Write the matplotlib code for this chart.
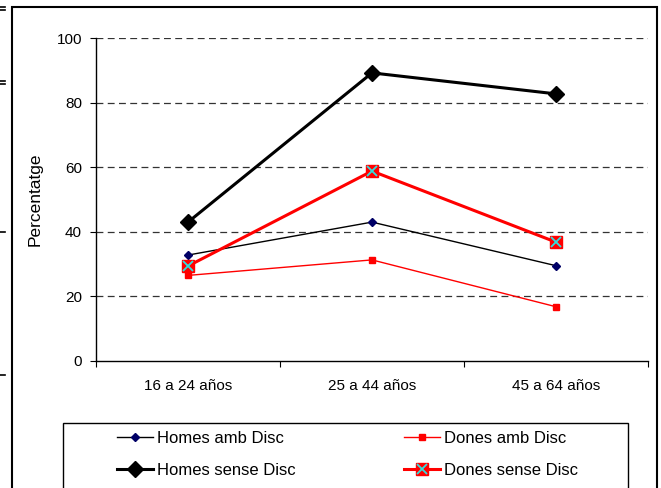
import matplotlib.pyplot as plt
from matplotlib.patches import Rectangle
from matplotlib.lines import Line2D
from matplotlib.legend_handler import HandlerTuple

plt.rcParams['font.family'] = ['Liberation Sans', 'DejaVu Sans']

# dades
grups = ['16 a 24 años', '25 a 44 años', '45 a 64 años']
homes_amb = [32.8, 43.0, 29.5]
dones_amb = [26.5, 31.3, 16.8]
homes_sense = [43.0, 89.2, 82.7]
dones_sense = [29.4, 58.8, 36.8]

fig = plt.figure(figsize=(6.61, 4.88), dpi=100)
ax = fig.add_axes([96 / 661, 1 - 361 / 488, 552 / 661, 323 / 488])

x = [0.5, 1.5, 2.5]

l1, = ax.plot(x, homes_amb, color='black', lw=1.0, marker='D', ms=4.5,
              mfc='#000066', mec='#000066', zorder=3)
l2, = ax.plot(x, dones_amb, color='red', lw=1.0, marker='s', ms=5,
              mfc='red', mec='red', zorder=3)
l3, = ax.plot(x, homes_sense, color='black', lw=2.2, marker='D', ms=8,
              mfc='black', mec='black', zorder=4)
l4, = ax.plot(x, dones_sense, color='red', lw=2.2, marker='s', ms=9,
              mfc='red', mec='red', zorder=5)
l4x, = ax.plot(x, dones_sense, ls='none', marker='x', ms=7, mew=1.3,
               color='#33dddd', zorder=6)

ax.set_xlim(0, 3)
ax.set_ylim(0, 100)
ax.set_yticks([0, 20, 40, 60, 80, 100])
ax.set_xticks([0, 1, 2, 3])
ax.set_xticklabels([])
ax.set_xticks(x, minor=True)
ax.set_xticklabels(grups, minor=True)
ax.tick_params(axis='x', which='minor', length=0, pad=13, labelsize=11)
ax.tick_params(axis='x', which='major', length=4, direction='out')
ax.tick_params(axis='y', length=4, direction='out', labelsize=11, pad=6)
ax.set_ylabel('Percentatge', fontsize=12.5, labelpad=10)

for v in [20, 40, 60, 80, 100]:
    ax.axhline(v, color='#333333', lw=0.9, dashes=(5.5, 3.5), zorder=1)

for s in ['top', 'right']:
    ax.spines[s].set_visible(False)
ax.spines['left'].set_linewidth(1.0)
ax.spines['bottom'].set_linewidth(1.0)

# marc exterior i caixa de la llegenda
fig.patches.append(Rectangle((12 / 661, -0.1), 645 / 661, 1.1 - 7 / 488,
                             transform=fig.transFigure, fill=False,
                             ec='black', lw=1.5))
fig.patches.append(Rectangle((63 / 661, -0.1), 565 / 661, 0.1 + 1 - 423 / 488,
                             transform=fig.transFigure, fill=False,
                             ec='black', lw=1.0))
for yy in [7, 10, 81, 84, 232, 375]:
    fig.add_artist(Line2D([0, 5 / 661], [1 - yy / 488] * 2,
                          transform=fig.transFigure, color='black', lw=1.2))

fig.legend([l1, l3, l2, (l4, l4x)],
           ['Homes amb Disc', 'Homes sense Disc', 'Dones amb Disc', 'Dones sense Disc'],
           handler_map={tuple: HandlerTuple(ndivide=1)},
           ncol=2, frameon=False, loc='upper left',
           bbox_to_anchor=(117 / 661, 1 - 431 / 488), borderpad=0,
           borderaxespad=0, fontsize=12, handlelength=2.15,
           handletextpad=0.25, columnspacing=6.5, labelspacing=1.0)

fig.savefig('out.png', dpi=100)
